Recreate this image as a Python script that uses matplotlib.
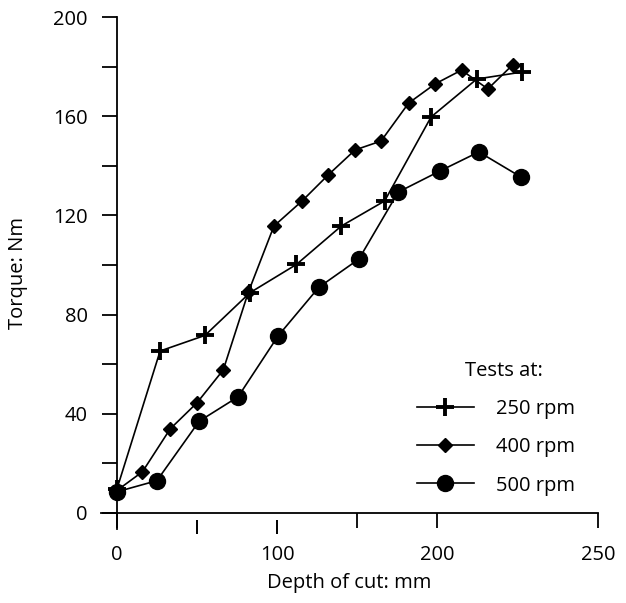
import matplotlib.pyplot as plt

# dati
x_250 = [0, 27, 55, 83, 112, 140, 167, 196, 224.5, 252.5]
y_250 = [9.5, 65.3, 71.6, 88.8, 100.2, 115.7, 125.8, 159.7, 175, 177.8]

x_400 = [0, 16, 33.3, 50, 66.4, 82, 98, 115.5, 131.8, 148.6, 164.8, 182, 198.4, 215, 231.4, 247]
y_400 = [9, 16.6, 33.9, 44.4, 57.7, 89, 115.7, 125.8, 136.3, 146.4, 150, 165.3, 173, 178.6, 171, 180.8]

x_500 = [0, 25, 51.4, 75.6, 100.6, 126, 151, 175.5, 201.5, 225.8, 252]
y_500 = [8.5, 13, 37, 46.8, 71.4, 91, 102.4, 129.4, 137.9, 145.6, 135.5]

labels = ["250 rpm", "400 rpm", "500 rpm"]

# tick asse x (l'originale mette "250" dove cadrebbe 300)
xticks = [0, 150, 200, 300]
xticklabels = ["0", "", "200", "250"]
xticks_low = [50, 100]   # questi due nell'originale sono staccati dall'asse
yticks = list(range(0, 201, 20))
yticklabels = [str(v) if v % 40 == 0 else "" for v in yticks]

plt.rcParams['font.family'] = ['Open Sans', 'DejaVu Sans']
plt.rcParams['font.size'] = 14.5

fig = plt.figure(figsize=(6.26, 6.03), dpi=100)
ax = fig.add_axes([0.161, 0.1227, 0.794, 0.849])

lw = 1.2
ax.plot(x_250, y_250, color='black', lw=lw, marker='+', markersize=13, mew=2.8, label=labels[0])
ax.plot(x_400, y_400, color='black', lw=lw, marker='D', markersize=6.8, label=labels[1])
ax.plot(x_500, y_500, color='black', lw=lw, marker='o', markersize=11.5, label=labels[2])

ax.set_xlim(-10, 300)
ax.set_ylim(-6.5, 200)
ax.spines['top'].set_visible(False)
ax.spines['right'].set_visible(False)
ax.spines['left'].set_position(('data', 0))
ax.spines['bottom'].set_position(('data', 0))
ax.spines['left'].set_linewidth(1.3)
ax.spines['bottom'].set_linewidth(1.3)

ax.set_xticks(xticks)
ax.set_xticklabels(xticklabels)
# etichetta "100" senza tick attaccato all'asse
ax.set_xticks([100], ["100"], minor=True)
ax.set_yticks(yticks)
ax.set_yticklabels(yticklabels)
ax.tick_params(axis='both', direction='out', length=11, width=1.3)
ax.tick_params(axis='x', pad=12)
ax.tick_params(axis='x', which='minor', length=0, pad=23, labelsize=14.5)
ax.tick_params(axis='y', pad=10)

# tick staccati sotto l'asse (come nell'originale)
ax.vlines(xticks_low, -0.0098, 0.0176, transform=ax.get_xaxis_transform(),
          color='black', lw=1.4, clip_on=False, zorder=5)

ax.set_xlabel("Depth of cut: mm")
ax.set_ylabel("Torque: Nm")
ax.xaxis.set_label_coords(0.5, -0.086)
ax.yaxis.set_label_coords(-0.147, 0.5)

leg = ax.legend(title="Tests at:", frameon=False, loc='lower right',
                bbox_to_anchor=(0.99, 0.03), handlelength=2.8, labelspacing=0.9,
                handletextpad=1.1, fontsize=14.5, title_fontsize=14.5)
# il titolo nell'originale e' un po' spostato a destra
leg.get_title().set_x(8)

plt.savefig("out.png", dpi=100)
plt.close()
